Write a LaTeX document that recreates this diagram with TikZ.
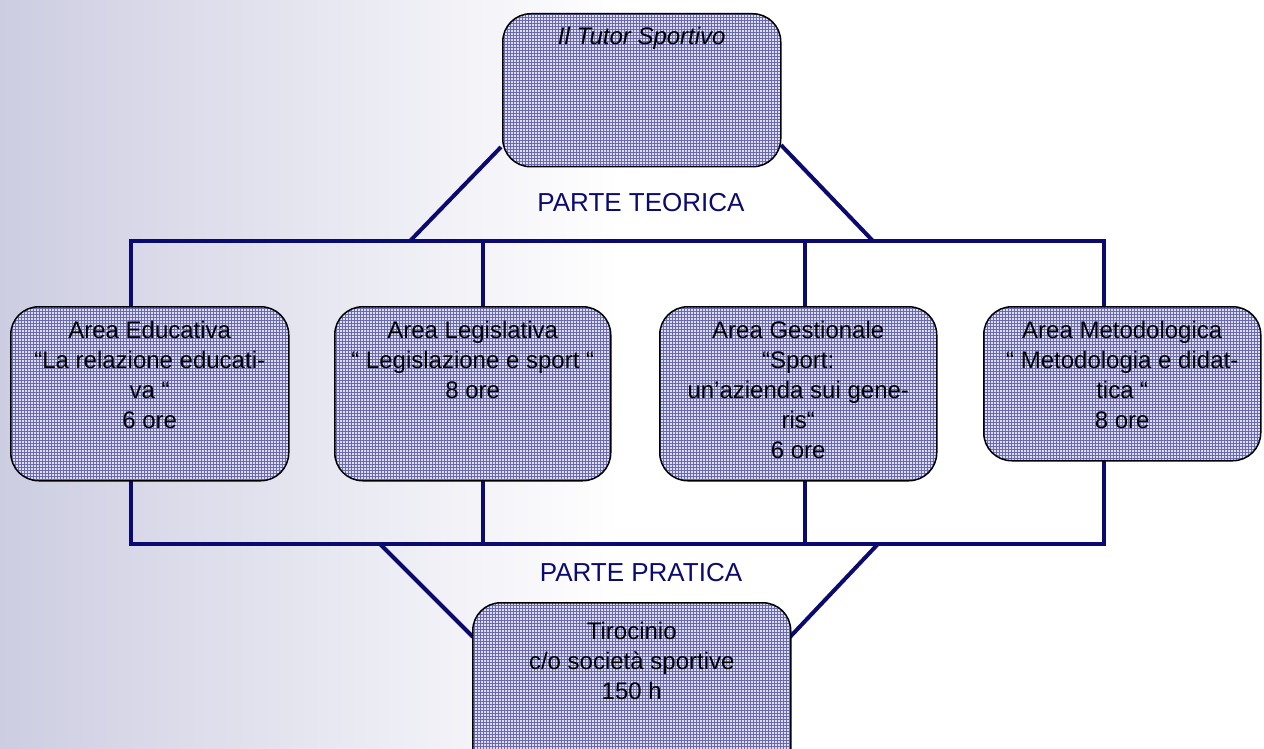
\documentclass[tikz,border=0pt]{standalone}
\usepackage{fontspec}
\setmainfont{Liberation Sans}
\usetikzlibrary{patterns}
\definecolor{navy}{RGB}{10,10,112}
\definecolor{bgl}{RGB}{205,205,226}
\definecolor{boxfill}{RGB}{222,222,240}
\definecolor{gridc}{RGB}{105,105,178}
\pgfdeclarelayer{back}
\pgfdeclarelayer{wires}
\pgfsetlayers{back,wires,main}
\tikzset{
  conn/.style={draw=navy, line width=4pt, line cap=rect},
  area/.style={draw=black, line width=1.5pt, rounded corners=28pt,
    preaction={fill=boxfill}, pattern=grid, pattern color=gridc,
    inner sep=0pt, anchor=north west},
  boxtext/.style={anchor=north, inner sep=0pt, align=center,
    font=\fontsize{24}{30}\selectfont},
  partlbl/.style={text=navy, font=\fontsize{26}{30}\selectfont}
}
\begin{document}
\begin{tikzpicture}[x=1pt, y=-1pt]
\useasboundingbox (0,0) rectangle (1264,749);
\clip (0,0) rectangle (1264,749);
\begin{pgfonlayer}{back}
  \fill[white] (0,0) rectangle (1264,749);
  \shade[left color=bgl, right color=white] (0,0) rectangle (620,749);
\end{pgfonlayer}

% boxes
\node[area, minimum width=278pt, minimum height=153pt,
  label={[boxtext, yshift=-14pt]north:{\itshape Il Tutor Sportivo}}] (top) at (502,13) {};
\node[area, minimum width=278pt, minimum height=174pt,
  label={[boxtext, yshift=-15pt]north:{Area Educativa\\“La relazione educati-\\va “\\6 ore}}] (edu) at (10,306) {};
\node[area, minimum width=276pt, minimum height=174pt,
  label={[boxtext, yshift=-15pt]north:{Area Legislativa\\“ Legislazione e sport “\\8 ore}}] (leg) at (334,306) {};
\node[area, minimum width=277pt, minimum height=174pt,
  label={[boxtext, yshift=-15pt]north:{Area Gestionale\\“Sport:\\un’azienda sui gene-\\ris“\\6 ore}}] (ges) at (659,306) {};
\node[area, minimum width=277pt, minimum height=154pt,
  label={[boxtext, yshift=-15pt]north:{Area Metodologica\\“ Metodologia e didat-\\tica “\\8 ore}}] (met) at (983,306) {};
\node[area, minimum width=318pt, minimum height=175pt,
  label={[boxtext, yshift=-20pt]north:{Tirocinio\\c/o società sportive\\150 h}}] (tir) at (472,602) {};

% labels
\node[partlbl] (teorica) at (641,203) {PARTE TEORICA};
\node[partlbl] (pratica) at (641,573) {PARTE PRATICA};

% named points on the bars
\coordinate (tA) at (131,241);
\coordinate (tB) at (483,241);
\coordinate (tC) at (805,241);
\coordinate (tD) at (1104,241);
\coordinate (pA) at (131,544);
\coordinate (pB) at (483,544);
\coordinate (pC) at (805,544);
\coordinate (pD) at (1104,544);
\coordinate (tl) at (410,241);
\coordinate (tr) at (873,241);
\coordinate (pl) at (380,544);
\coordinate (pr) at (878,544);
\coordinate (topL) at (501,147);
\coordinate (topR) at (781,145);
\coordinate (tirL) at (473,637);
\coordinate (tirR) at (790,637);

\begin{pgfonlayer}{wires}
  \draw[conn] (tA) -- (tD);
  \draw[conn] (pA) -- (pD);
  \draw[conn, line cap=butt] (topL) -- (tl);
  \draw[conn, line cap=butt] (topR) -- (tr);
  \draw[conn, line cap=butt] (pl) -- (tirL);
  \draw[conn, line cap=butt] (pr) -- (tirR);
  \draw[conn] (tA) -- (tA |- edu.north);
  \draw[conn] (tB) -- (tB |- leg.north);
  \draw[conn] (tC) -- (tC |- ges.north);
  \draw[conn] (tD) -- (tD |- met.north);
  \draw[conn] (tA |- edu.south) -- (pA);
  \draw[conn] (tB |- leg.south) -- (pB);
  \draw[conn] (tC |- ges.south) -- (pC);
  \draw[conn] (tD |- met.south) -- (pD);
\end{pgfonlayer}
\end{tikzpicture}
\end{document}
